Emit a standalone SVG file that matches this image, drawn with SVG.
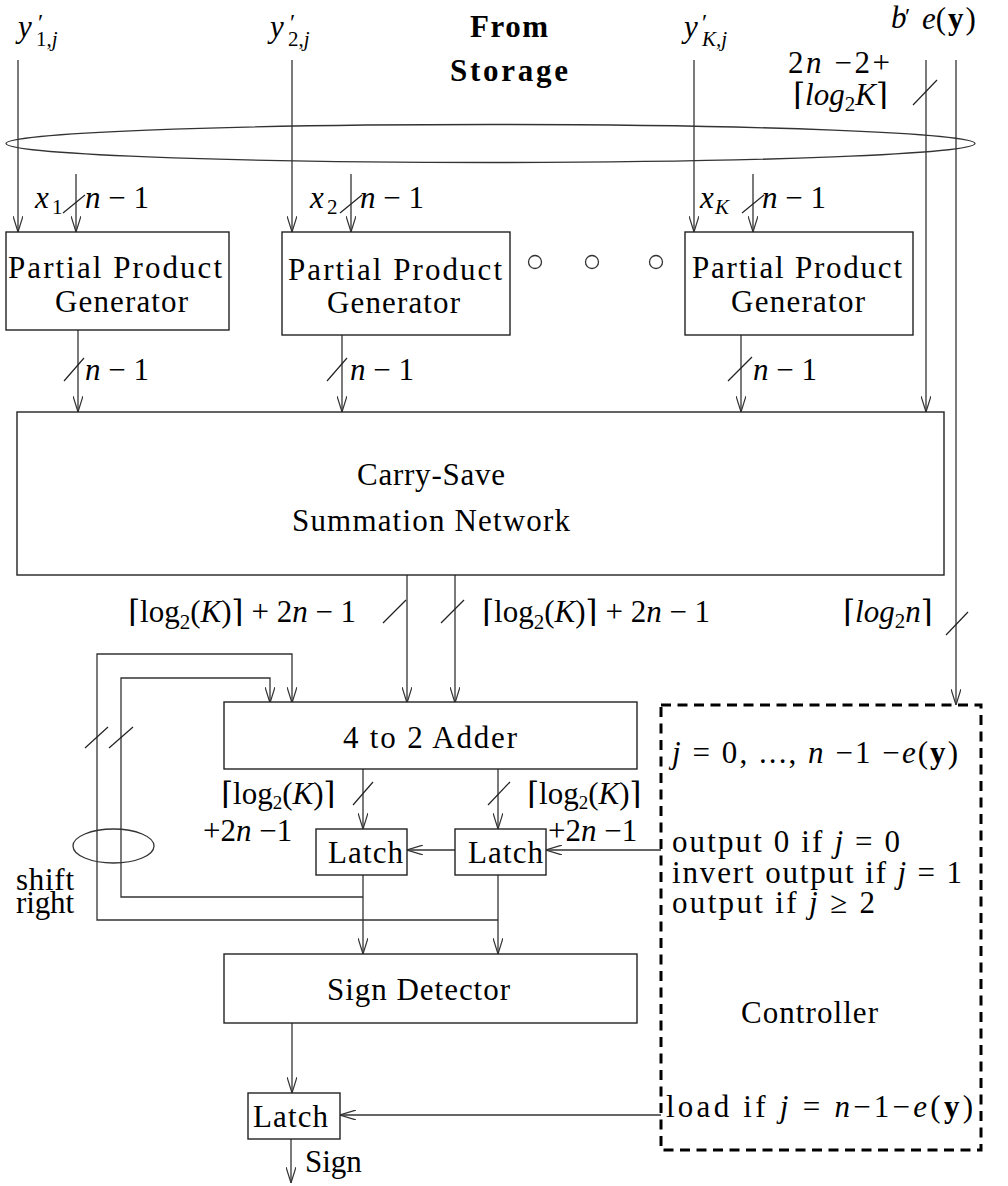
<svg xmlns="http://www.w3.org/2000/svg" width="1008" height="1186" viewBox="0 0 1008 1186">
<defs>
<style>
.t{font-family:"Liberation Serif","DejaVu Serif",serif;font-size:31px;fill:#000}
.i{font-style:italic}
.b{font-weight:bold}
.s{font-size:21px}
.p{font-size:19px}
.pr{font-size:24px}
.box{fill:#fff;stroke:#222;stroke-width:1.4}
.ln{fill:none;stroke:#333;stroke-width:1.3}
.ar{fill:none;stroke:#333;stroke-width:1.3;marker-end:url(#ah)}
.sl{stroke:#222;stroke-width:1.2}
.dash{fill:none;stroke:#000;stroke-width:3;stroke-dasharray:10 6.5}
</style>
<marker id="ah" viewBox="0 0 16 10" refX="16" refY="5" markerWidth="16" markerHeight="10" markerUnits="userSpaceOnUse" orient="auto">
<path d="M0,0 L16,5 L0,10" fill="none" stroke="#333" stroke-width="1.2"/>
</marker>
</defs>
<rect width="1008" height="1186" fill="#fff"/>

<g id="connectors">
<ellipse cx="490.5" cy="143.5" rx="484.5" ry="19" class="ln"/>
<path class="ar" d="M18,60 V232"/>
<path class="ar" d="M76,174 V232"/>
<path class="ar" d="M292,60 V232"/>
<path class="ar" d="M351,174 V232"/>
<path class="ar" d="M694,60 V232"/>
<path class="ar" d="M753,174 V232"/>
<path class="ar" d="M926,60 V412"/>
<path class="ar" d="M956,60 V705"/>
<line class="sl" x1="63" y1="213" x2="85" y2="195"/>
<line class="sl" x1="340" y1="213" x2="362" y2="195"/>
<line class="sl" x1="742" y1="213" x2="764" y2="195"/>
<line class="sl" x1="913" y1="105" x2="937" y2="80"/>
<line class="sl" x1="946" y1="635" x2="968" y2="612"/>
<path class="ar" d="M78,330 V412"/>
<path class="ar" d="M342,335 V412"/>
<path class="ar" d="M741,335 V412"/>
<line class="sl" x1="64" y1="381" x2="84" y2="358"/>
<line class="sl" x1="327" y1="381" x2="347" y2="358"/>
<line class="sl" x1="728" y1="381" x2="752" y2="357"/>
<path class="ar" d="M407,575 V703"/>
<path class="ar" d="M455,575 V703"/>
<line class="sl" x1="383" y1="623" x2="406" y2="600"/>
<line class="sl" x1="441" y1="623" x2="464" y2="600"/>
<path class="ar" d="M363,769 V829"/>
<path class="ar" d="M498,769 V829"/>
<line class="sl" x1="353" y1="805" x2="373" y2="782"/>
<line class="sl" x1="488" y1="805" x2="510" y2="782"/>
<path class="ar" d="M455,850 H407"/>
<path class="ar" d="M661,850 H546"/>
<path class="ar" d="M363,875 V954"/>
<path class="ar" d="M498,875 V954"/>
<path class="ar" d="M363,897 H121 V678 H270 V703"/>
<path class="ar" d="M498,920 H97 V654 H292 V703"/>
<line class="sl" x1="85" y1="748" x2="108" y2="727"/>
<line class="sl" x1="109" y1="748" x2="133" y2="727"/>
<ellipse cx="113.5" cy="846" rx="40.5" ry="17" class="ln"/>
<path class="ar" d="M292,1023 V1093"/>
<path class="ar" d="M661,1115 H340"/>
<path class="ar" d="M291,1139 V1183"/>
<circle cx="535" cy="262" r="6.5" class="ln"/>
<circle cx="592" cy="262" r="6.5" class="ln"/>
<circle cx="656" cy="262" r="6.5" class="ln"/>
</g>

<g id="labels">
<text class="t i" x="18" y="37">y</text>
<text class="t pr" x="38" y="30">′</text>
<text class="t s" x="36" y="46">1,<tspan class="i">j</tspan></text>
<text class="t i" x="270" y="37">y</text>
<text class="t pr" x="290" y="30">′</text>
<text class="t s" x="288" y="46">2,<tspan class="i">j</tspan></text>
<text class="t i" x="684" y="37">y</text>
<text class="t pr" x="702" y="30">′</text>
<text class="t s i" x="702" y="46">K,j</text>
<text class="t b" x="470" y="37" font-size="30" textLength="78">From</text>
<text class="t b" x="450" y="81" font-size="30" textLength="118">Storage</text>
<text class="t i" x="891" y="28">b</text>
<text class="t pr" x="905" y="24">′</text>
<text class="t" x="922" y="29" font-size="35"><tspan class="i">e</tspan>(<tspan class="b" dx="2">y</tspan><tspan dx="2">)</tspan></text>
<text class="t" x="788" y="73" textLength="102">2<tspan class="i">n</tspan> −2+</text>
<text class="t" x="793" y="105">⌈<tspan class="i">log</tspan><tspan class="s" dy="6">2</tspan><tspan class="i" dy="-6">K</tspan>⌉</text>
<text class="t i" x="35" y="208">x</text><text class="t s" x="52" y="214">1</text>
<text class="t" x="85" y="208"><tspan class="i">n</tspan> − 1</text>
<text class="t i" x="310" y="208">x</text><text class="t s" x="327" y="214">2</text>
<text class="t" x="360" y="208"><tspan class="i">n</tspan> − 1</text>
<text class="t i" x="700" y="208">x</text><text class="t s i" x="715" y="214">K</text>
<text class="t" x="762" y="208"><tspan class="i">n</tspan> − 1</text>
<text class="t" x="85" y="380"><tspan class="i">n</tspan> − 1</text>
<text class="t" x="350" y="380"><tspan class="i">n</tspan> − 1</text>
<text class="t" x="753" y="380"><tspan class="i">n</tspan> − 1</text>
<text class="t" x="128" y="622">⌈log<tspan class="s" dy="7">2</tspan><tspan dy="-7">(</tspan><tspan class="i">K</tspan>)⌉ + 2<tspan class="i">n</tspan> − 1</text>
<text class="t" x="482" y="622">⌈log<tspan class="s" dy="7">2</tspan><tspan dy="-7">(</tspan><tspan class="i">K</tspan>)⌉ + 2<tspan class="i">n</tspan> − 1</text>
<text class="t" x="843" y="622">⌈<tspan class="i">log</tspan><tspan class="s" dy="6">2</tspan><tspan class="i" dy="-6">n</tspan>⌉</text>
<text class="t" x="221" y="804" font-size="29">⌈log<tspan class="p" dy="5">2</tspan><tspan dy="-5">(</tspan><tspan class="i">K</tspan>)⌉</text>
<text class="t" x="203" y="841" font-size="29">+2<tspan class="i">n</tspan> −1</text>
<text class="t" x="527" y="804" font-size="29">⌈log<tspan class="p" dy="5">2</tspan><tspan dy="-5">(</tspan><tspan class="i">K</tspan>)⌉</text>
<text class="t" x="548" y="841" font-size="29">+2<tspan class="i">n</tspan> −1</text>
<text class="t" x="16" y="890" font-size="27" textLength="58">shift</text>
<text class="t" x="16" y="913" font-size="27" textLength="58">right</text>
<text class="t" x="305" y="1172">Sign</text>
</g>

<g id="ppg1">
<rect class="box" x="6" y="232" width="223" height="98"/>
<text class="t" x="8" y="278" font-size="34" textLength="214">Partial Product</text>
<text class="t" x="55" y="312" font-size="34" textLength="133">Generator</text>
</g>
<g id="ppg2">
<rect class="box" x="282" y="232" width="228" height="103"/>
<text class="t" x="288" y="280" font-size="34" textLength="214">Partial Product</text>
<text class="t" x="327" y="313" font-size="34" textLength="133">Generator</text>
</g>
<g id="ppg3">
<rect class="box" x="685" y="232" width="228" height="103"/>
<text class="t" x="692" y="278" font-size="34" textLength="210">Partial Product</text>
<text class="t" x="731" y="312" font-size="34" textLength="134">Generator</text>
</g>
<g id="csa">
<rect class="box" x="17" y="412" width="927" height="163"/>
<text class="t" x="357" y="485" font-size="32" textLength="148">Carry-Save</text>
<text class="t" x="292" y="531" font-size="32" textLength="278">Summation Network</text>
</g>
<g id="adder">
<rect class="box" x="224" y="702" width="413" height="67"/>
<text class="t" x="343" y="748" textLength="174">4 to 2 Adder</text>
</g>
<g id="latch1">
<rect class="box" x="316" y="829" width="91" height="46"/>
<text class="t" x="328" y="863" textLength="75">Latch</text>
</g>
<g id="latch2">
<rect class="box" x="455" y="829" width="91" height="46"/>
<text class="t" x="468" y="863" textLength="75">Latch</text>
</g>
<g id="sign-detector">
<rect class="box" x="224" y="954" width="413" height="69"/>
<text class="t" x="327" y="1000" textLength="183">Sign Detector</text>
</g>
<g id="latch3">
<rect class="box" x="248" y="1093" width="92" height="46"/>
<text class="t" x="253" y="1127" textLength="75">Latch</text>
</g>
<g id="controller">
<rect class="dash" x="661" y="705" width="320" height="445"/>
<text class="t" x="672" y="763" textLength="286"><tspan class="i">j</tspan> = 0, ..., <tspan class="i">n</tspan> −1 −<tspan class="i">e</tspan>(<tspan class="b">y</tspan>)</text>
<text class="t" x="672" y="852" textLength="228">output 0 if <tspan class="i">j</tspan> = 0</text>
<text class="t" x="672" y="883" textLength="290">invert output if <tspan class="i">j</tspan> = 1</text>
<text class="t" x="672" y="913" textLength="203">output if <tspan class="i">j</tspan> ≥ 2</text>
<text class="t" x="741" y="1023" textLength="137">Controller</text>
<text class="t" x="666" y="1117" textLength="307">load if <tspan class="i">j</tspan> = <tspan class="i">n</tspan>−1−<tspan class="i">e</tspan>(<tspan class="b">y</tspan>)</text>
</g>
</svg>
